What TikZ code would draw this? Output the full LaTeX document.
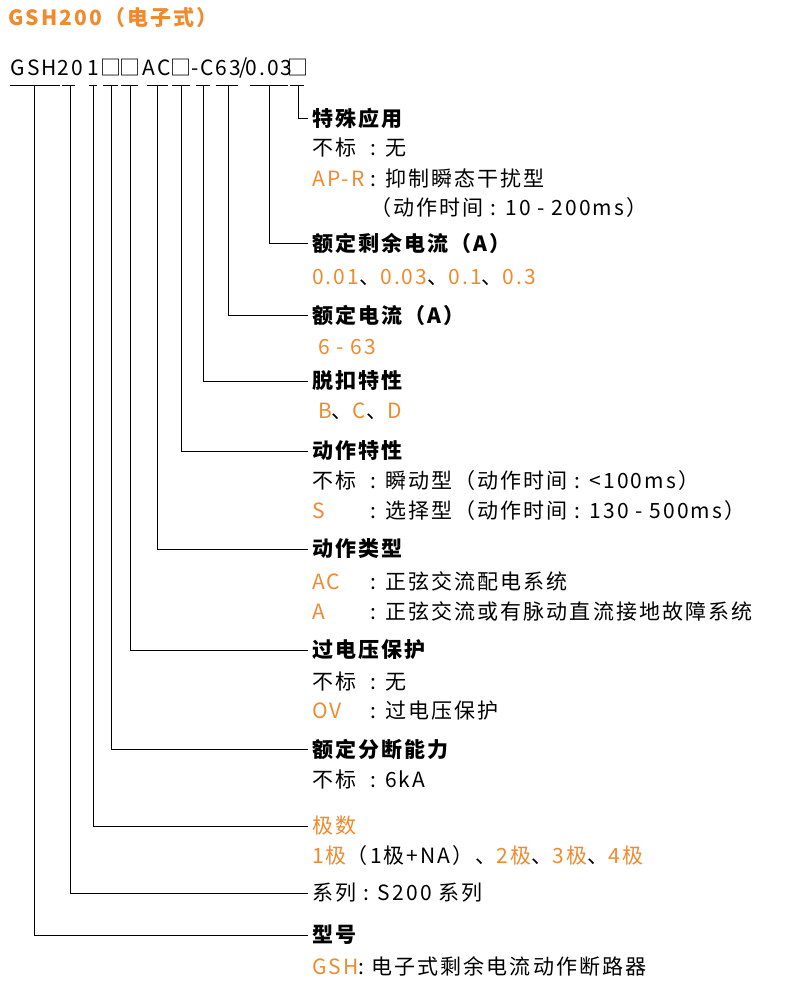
\documentclass[tikz,border=0pt]{standalone}
\usepackage{fontspec}
\setmainfont{Noto Sans CJK SC}[LetterSpace=10]
\usepackage{xcolor}
\usetikzlibrary{positioning}
\definecolor{org}{HTML}{F08A2E}

\begin{document}
\begin{tikzpicture}[x=1pt,y=-1pt]
\tikzstyle{head} = [anchor=west, inner sep=0pt, font=\fontsize{21}{23}\selectfont\bfseries]
\tikzstyle{item} = [anchor=west, inner sep=0pt, font=\fontsize{21}{23}\selectfont]
\tikzstyle{code} = [inner sep=0pt, font=\fontsize{21}{23}\selectfont]
\tikzstyle{line} = [thick, black]
\newcommand{\lab}[1]{\makebox[58pt][l]{#1}}
\useasboundingbox (0,0) rectangle (790,991);

% title and code
\node (title) [item, text=org, font=\fontsize{21}{23}\selectfont\bfseries] at (8,18) {GSH200（电子式）};
\node (cGSH) [code] at (34,68) {GSH};
\node (c20) [code] at (70,68) {20};
\node (c1) [code] at (93,68) {1};
\node (cbreak) [code] at (111,68) {□};
\node (cover) [code] at (130,68) {□};
\node (cAC) [code] at (157,68) {AC};
\node (cact) [code] at (181,68) {□};
\node (cC) [code] at (203,68) {-C};
\node (c63) [code] at (228,68) {63};
\node (cslash) [code] at (244,68) {/};
\node (cres) [code] at (269,68) {0.03};
\node (cspec) [code] at (298,68) {□};

% headings
\node (special) [head] at (312,118) {特殊应用};
\node [item] at (312,148) {\lab{不标}: 无};
\node [item] at (312,178) {\lab{\textcolor{org}{AP-R}}: 抑制瞬态干扰型};
\node [item] at (370,208) {（动作时间 : 10 - 200ms）};
\node (resid) [head] at (312,243) {额定剩余电流（A）};
\node [item] at (312,277) {\textcolor{org}{0.01}、\textcolor{org}{0.03}、\textcolor{org}{0.1}、\textcolor{org}{0.3}};
\node (rated) [head] at (312,315) {额定电流（A）};
\node [item, text=org] at (318,347) {6 - 63};
\node (trip) [head] at (312,381) {脱扣特性};
\node [item] at (318,411) {\textcolor{org}{B}、\textcolor{org}{C}、\textcolor{org}{D}};
\node (actchar) [head] at (312,451) {动作特性};
\node [item] at (312,481) {\lab{不标}: 瞬动型（动作时间 : <100ms）};
\node [item] at (312,511) {\lab{\textcolor{org}{S}}: 选择型（动作时间 : 130 - 500ms）};
\node (acttype) [head] at (312,549) {动作类型};
\node [item] at (312,581) {\lab{\textcolor{org}{AC}}: 正弦交流配电系统};
\node [item] at (312,611) {\lab{\textcolor{org}{A}}: 正弦交流或有脉动直流接地故障系统};
\node (overv) [head] at (312,650) {过电压保护};
\node [item] at (312,682) {\lab{不标}: 无};
\node [item] at (312,711) {\lab{\textcolor{org}{OV}}: 过电压保护};
\node (breaking) [head] at (312,749) {额定分断能力};
\node [item] at (312,779) {\lab{不标}: 6kA};
\node (poles) [item, text=org] at (312,826) {极数};
\node [item] at (312,856) {\textcolor{org}{1极}（1极+NA）、\textcolor{org}{2极}、\textcolor{org}{3极}、\textcolor{org}{4极}};
\node (series) [item] at (312,893) {系列 : S200 系列};
\node (model) [head] at (312,935) {型号};
\node [item] at (312,966) {\textcolor{org}{GSH}: 电子式剩余电流动作断路器};

% underlines
\foreach \a/\b in {10/60, 62/75, 89/97, 103/118, 121/138, 147/168, 172/190, 196/210, 216/238, 250/288, 290/304}
  \draw [line] (\a,85) -- (\b,85);

% connectors
\draw [line] (cspec.south |- 0,85) |- ([xshift=-4pt]special.west);
\draw [line] (cres.south |- 0,85) |- ([xshift=-4pt]resid.west);
\draw [line] (c63.south |- 0,85) |- ([xshift=-4pt]rated.west);
\draw [line] (cC.south |- 0,85) |- ([xshift=-4pt]trip.west);
\draw [line] (cact.south |- 0,85) |- ([xshift=-4pt]actchar.west);
\draw [line] (cAC.south |- 0,85) |- ([xshift=-4pt]acttype.west);
\draw [line] (cover.south |- 0,85) |- ([xshift=-4pt]overv.west);
\draw [line] (cbreak.south |- 0,85) |- ([xshift=-4pt]breaking.west);
\draw [line] (c1.south |- 0,85) |- ([xshift=-4pt]poles.west);
\draw [line] (c20.south |- 0,85) |- ([xshift=-4pt]series.west);
\draw [line] (cGSH.south |- 0,85) |- ([xshift=-4pt]model.west);
\end{tikzpicture}
\end{document}
